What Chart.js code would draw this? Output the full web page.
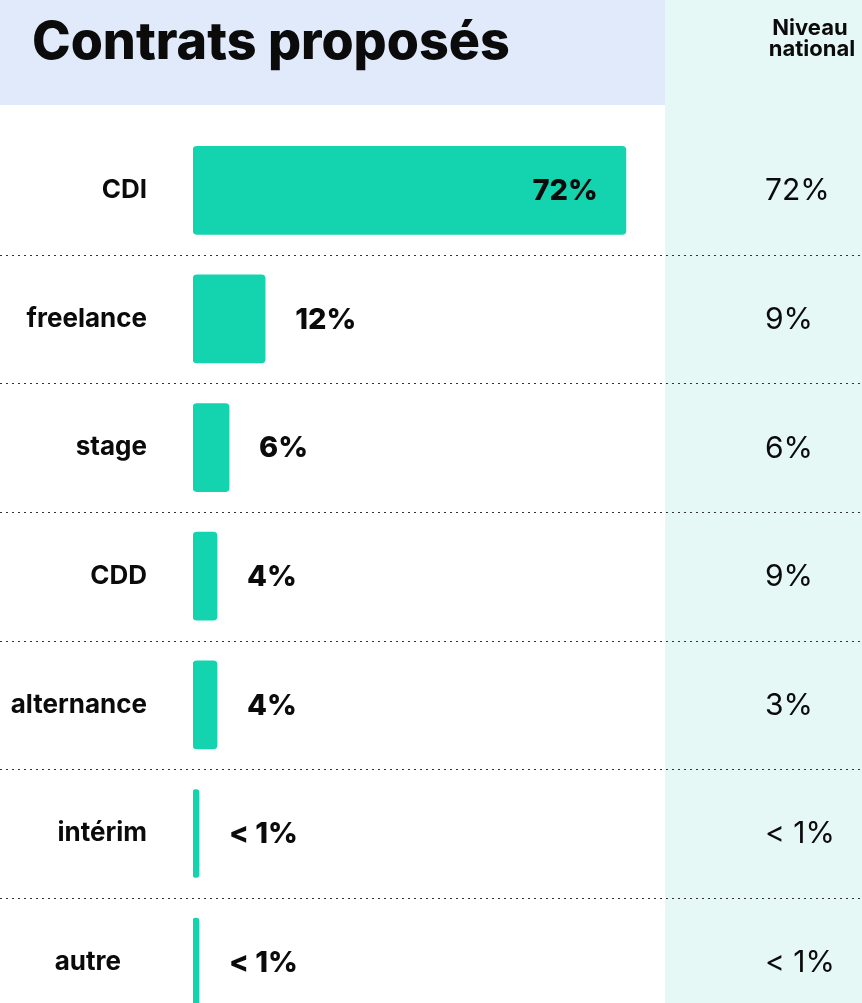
<!DOCTYPE html>
<html><head><meta charset="utf-8">
<script src="https://cdn.jsdelivr.net/npm/chart.js@4/dist/chart.umd.min.js"></script>
<style>html,body{margin:0;padding:0;overflow:hidden;background:#fff;width:862px;height:1003px}canvas{display:block;width:862px;height:1088px}</style>
</head><body>
<canvas id="c" width="862" height="1088" style="width:862px;height:1088px"></canvas>
<script>
const chartTitle = "Contrats proposés";
const nationalHeader = ["Niveau", "national"];
const categories = ["CDI", "freelance", "stage", "CDD", "alternance", "intérim", "autre"];
const values = [72, 12, 6, 4, 4, 0.5, 0.5];
const valueLabels = ["72%", "12%", "6%", "4%", "4%", "< 1%", "< 1%"];
const nationalLabels = ["72%", "9%", "6%", "9%", "3%", "< 1%", "< 1%"];

const FONT = 'Inter';
const BAR = '#14D3AF';
const INK = '#0b0b0b';
const AREA_TOP = 126, AREA_BOTTOM = 1027;

const decor = {
  id: 'decor',
  beforeDraw(chart) {
    const ctx = chart.ctx, W = chart.width, H = chart.height;
    const a = chart.chartArea;
    ctx.save();
    ctx.fillStyle = '#ffffff'; ctx.fillRect(0, 0, W, H);
    ctx.fillStyle = '#E6F8F5'; ctx.fillRect(a.right, 0, W - a.right, H);
    ctx.fillStyle = '#E1EAFA'; ctx.fillRect(0, 0, a.right, 105);
    ctx.fillStyle = INK;
    ctx.textBaseline = 'alphabetic';
    ctx.textAlign = 'left';
    ctx.font = `800 52px ${FONT}`;
    ctx.fillText(chartTitle, 32, 59);
    ctx.textAlign = 'center';
    ctx.font = `700 22px ${FONT}`;
    ctx.fillText(nationalHeader[0], 810, 35);
    ctx.fillText(nationalHeader[1], 812, 56);
    const y = chart.scales.y;
    ctx.strokeStyle = '#333';
    ctx.lineWidth = 1.2;
    ctx.setLineDash([2, 4]);
    for (let i = 0; i < categories.length - 1; i++) {
      const yy = Math.round((y.getPixelForValue(i) + y.getPixelForValue(i + 1)) / 2) + 0.5;
      ctx.beginPath(); ctx.moveTo(0, yy); ctx.lineTo(W, yy); ctx.stroke();
    }
    ctx.restore();
  },
  afterDatasetsDraw(chart) {
    const ctx = chart.ctx;
    const meta = chart.getDatasetMeta(0);
    const y = chart.scales.y;
    ctx.save();
    ctx.textBaseline = 'middle';
    ctx.fillStyle = INK;
    meta.data.forEach((bar, i) => {
      ctx.font = `800 29px ${FONT}`;
      const tw = ctx.measureText(valueLabels[i]).width;
      const len = bar.x - bar.base;
      if (len > tw + 80) {
        ctx.textAlign = 'right';
        ctx.fillText(valueLabels[i], bar.x - 28, bar.y + 1);
      } else {
        ctx.textAlign = 'left';
        ctx.fillText(valueLabels[i], bar.x + 30, bar.y + 1);
      }
      ctx.font = `400 30px ${FONT}`;
      ctx.textAlign = 'left';
      ctx.fillText(nationalLabels[i], chart.chartArea.right + 100, y.getPixelForValue(i) + 1);
    });
    ctx.restore();
  }
};

document.fonts.load(`800 52px ${FONT}`).then(() => document.fonts.load(`400 30px ${FONT}`)).then(() => document.fonts.load(`700 26px ${FONT}`)).finally(() => {
  new Chart(document.getElementById('c'), {
    type: 'bar',
    data: {
      labels: categories,
      datasets: [{
        data: values,
        backgroundColor: BAR,
        borderRadius: 4,
        borderSkipped: false,
        barThickness: 88,
        minBarLength: 6
      }]
    },
    options: {
      indexAxis: 'y',
      responsive: false,
      maintainAspectRatio: false,
      animation: false,
      events: [],
      layout: { padding: (c) => ({ top: AREA_TOP, bottom: c.chart.height - AREA_BOTTOM, left: 0, right: 197 }) },
      plugins: { legend: { display: false }, tooltip: { enabled: false }, title: { display: false } },
      scales: {
        x: { display: false, min: 0, max: 78.5 },
        y: {
          afterFit(s) { s.width = 193; },
          grid: { display: false, drawTicks: false },
          border: { display: false },
          ticks: {
            color: INK, padding: 46, font: { family: FONT, size: 26, weight: '700' },
            callback(v, i) { return categories[i] + (i === categories.length - 1 ? '\u2003' : ''); }
          }
        }
      }
    },
    plugins: [decor]
  });
});
</script>
</body></html>
